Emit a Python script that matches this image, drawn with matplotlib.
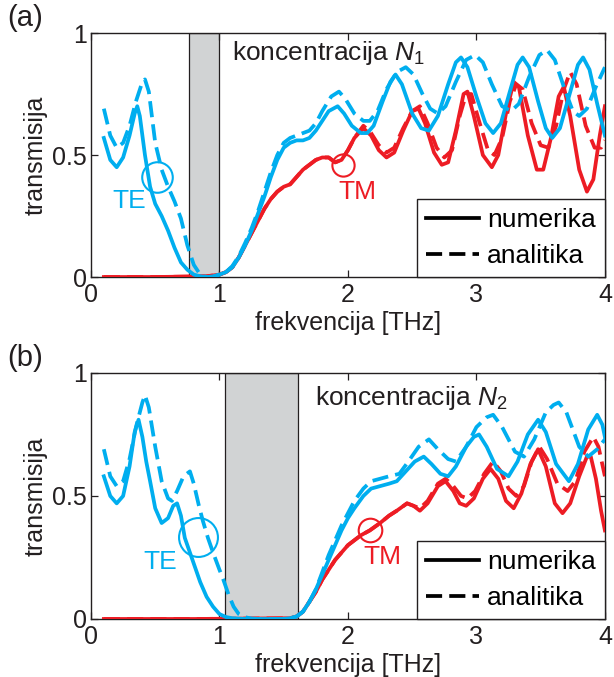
import matplotlib
matplotlib.use("Agg")
import matplotlib.pyplot as plt

plt.rcParams['font.family'] = ['Liberation Sans', 'DejaVu Sans']
plt.rcParams['mathtext.fontset'] = 'custom'
plt.rcParams['mathtext.rm'] = 'Liberation Sans'
plt.rcParams['mathtext.it'] = 'Liberation Sans:italic'

BLUE = '#00AEEF'
RED = '#ED1C24'
DARK = '#231F20'

# ---- panel (a), koncentracija N1 ----
a_te_num_x = [0.10, 0.15, 0.20, 0.25, 0.30, 0.34, 0.36, 0.38, 0.42, 0.46, 0.50, 0.55, 0.60, 0.65,
              0.70, 0.75, 0.80, 0.85, 0.90, 0.95, 1.00, 1.05, 1.10, 1.15, 1.20, 1.25, 1.30, 1.35,
              1.40, 1.45, 1.50, 1.55, 1.60, 1.65, 1.70, 1.75, 1.80, 1.85, 1.92, 1.97, 2.03, 2.10,
              2.15, 2.20, 2.27, 2.33, 2.37, 2.42, 2.50, 2.57, 2.63, 2.70, 2.78, 2.84, 2.88, 2.93,
              3.00, 3.07, 3.13, 3.19, 3.26, 3.32, 3.36, 3.41, 3.48, 3.54, 3.59, 3.65, 3.72, 3.79,
              3.83, 3.88, 3.94, 4.00]
a_te_num_y = [0.57, 0.48, 0.45, 0.49, 0.58, 0.67, 0.70, 0.66, 0.50, 0.37, 0.30, 0.25, 0.19, 0.12,
              0.06, 0.03, 0.01, 0.003, 0.0, 0.002, 0.01, 0.02, 0.04, 0.08, 0.13, 0.19, 0.26, 0.33,
              0.41, 0.48, 0.53, 0.55, 0.56, 0.56, 0.57, 0.60, 0.64, 0.68, 0.70, 0.67, 0.62, 0.59,
              0.59, 0.62, 0.72, 0.80, 0.83, 0.79, 0.67, 0.61, 0.60, 0.66, 0.79, 0.88, 0.90, 0.86,
              0.74, 0.63, 0.59, 0.63, 0.76, 0.87, 0.90, 0.86, 0.72, 0.61, 0.57, 0.61, 0.74, 0.87,
              0.90, 0.85, 0.71, 0.58]

a_te_ana_x = [0.10, 0.15, 0.20, 0.25, 0.30, 0.35, 0.40, 0.42, 0.45, 0.50, 0.55, 0.60, 0.65, 0.70,
              0.75, 0.80, 0.85, 0.90, 0.95, 1.00, 1.05, 1.10, 1.15, 1.20, 1.25, 1.30, 1.35, 1.40,
              1.45, 1.50, 1.55, 1.60, 1.65, 1.70, 1.75, 1.80, 1.87, 1.93, 1.98, 2.05, 2.12, 2.17,
              2.23, 2.30, 2.38, 2.45, 2.51, 2.58, 2.64, 2.70, 2.76, 2.84, 2.92, 2.99, 3.05, 3.12,
              3.20, 3.27, 3.33, 3.41, 3.49, 3.55, 3.61, 3.68, 3.75, 3.80, 3.86, 3.93, 4.00]
a_te_ana_y = [0.69, 0.58, 0.53, 0.55, 0.62, 0.72, 0.80, 0.81, 0.76, 0.55, 0.44, 0.37, 0.31, 0.24,
              0.13, 0.05, 0.01, 0.0, 0.002, 0.01, 0.02, 0.045, 0.085, 0.14, 0.20, 0.27, 0.35, 0.43,
              0.50, 0.55, 0.57, 0.58, 0.59, 0.60, 0.63, 0.68, 0.74, 0.76, 0.73, 0.67, 0.64, 0.64,
              0.68, 0.77, 0.84, 0.86, 0.83, 0.75, 0.69, 0.67, 0.70, 0.80, 0.89, 0.91, 0.88, 0.79,
              0.70, 0.68, 0.71, 0.82, 0.91, 0.93, 0.89, 0.78, 0.68, 0.66, 0.69, 0.78, 0.86]

a_tm_num_x = [0.10, 0.50, 0.90, 1.00, 1.05, 1.10, 1.15, 1.20, 1.25, 1.30, 1.35, 1.40, 1.45, 1.50,
              1.55, 1.60, 1.65, 1.70, 1.75, 1.80, 1.85, 1.90, 1.95, 2.00, 2.05, 2.12, 2.18, 2.24,
              2.30, 2.36, 2.43, 2.50, 2.55, 2.60, 2.67, 2.73, 2.78, 2.84, 2.90, 2.93, 2.98, 3.05,
              3.12, 3.17, 3.23, 3.29, 3.33, 3.40, 3.47, 3.52, 3.58, 3.64, 3.68, 3.73, 3.80, 3.86,
              3.91, 3.96, 4.00]
a_tm_num_y = [0.0, 0.0, 0.003, 0.01, 0.02, 0.04, 0.08, 0.13, 0.18, 0.23, 0.28, 0.32, 0.35, 0.37,
              0.38, 0.41, 0.44, 0.46, 0.48, 0.49, 0.49, 0.47, 0.48, 0.52, 0.57, 0.61, 0.58, 0.52,
              0.49, 0.51, 0.60, 0.68, 0.69, 0.63, 0.51, 0.46, 0.47, 0.60, 0.75, 0.76, 0.66, 0.50,
              0.45, 0.50, 0.67, 0.80, 0.78, 0.58, 0.44, 0.44, 0.57, 0.74, 0.78, 0.66, 0.44, 0.35,
              0.40, 0.58, 0.70]

a_tm_ana_x = [0.10, 0.50, 0.90, 1.00, 1.05, 1.10, 1.15, 1.20, 1.25, 1.30, 1.35, 1.40, 1.45, 1.50,
              1.55, 1.60, 1.65, 1.70, 1.75, 1.80, 1.85, 1.90, 1.95, 2.00, 2.05, 2.12, 2.18, 2.24,
              2.30, 2.36, 2.43, 2.50, 2.56, 2.62, 2.69, 2.75, 2.81, 2.87, 2.92, 2.96, 3.02, 3.09,
              3.14, 3.20, 3.26, 3.31, 3.36, 3.43, 3.50, 3.56, 3.62, 3.68, 3.73, 3.78, 3.85, 3.92,
              3.97, 4.00]
a_tm_ana_y = [0.0, 0.0, 0.003, 0.01, 0.02, 0.04, 0.08, 0.13, 0.18, 0.23, 0.28, 0.32, 0.35, 0.37,
              0.38, 0.41, 0.44, 0.46, 0.48, 0.49, 0.49, 0.47, 0.48, 0.52, 0.57, 0.62, 0.59, 0.54,
              0.51, 0.53, 0.61, 0.68, 0.70, 0.63, 0.53, 0.49, 0.52, 0.66, 0.75, 0.75, 0.64, 0.52,
              0.50, 0.57, 0.72, 0.79, 0.77, 0.63, 0.54, 0.53, 0.62, 0.77, 0.84, 0.79, 0.62, 0.53,
              0.53, 0.56]

# ---- panel (b), koncentracija N2 ----
b_te_num_x = [0.10, 0.15, 0.20, 0.25, 0.30, 0.34, 0.37, 0.40, 0.43, 0.46, 0.50, 0.55, 0.60, 0.64,
              0.67, 0.70, 0.73, 0.77, 0.81, 0.85, 0.90, 0.95, 1.00, 1.05, 1.10, 1.20, 1.50, 1.55,
              1.60, 1.65, 1.70, 1.75, 1.80, 1.85, 1.90, 1.95, 2.00, 2.05, 2.12, 2.18, 2.25, 2.32,
              2.38, 2.45, 2.52, 2.59, 2.65, 2.72, 2.78, 2.84, 2.92, 2.98, 3.02, 3.08, 3.16, 3.25,
              3.32, 3.40, 3.48, 3.54, 3.62, 3.72, 3.79, 3.87, 3.94, 3.98, 4.00]
b_te_num_y = [0.58, 0.50, 0.47, 0.50, 0.62, 0.76, 0.81, 0.74, 0.64, 0.56, 0.45, 0.39, 0.41, 0.46,
              0.47, 0.42, 0.33, 0.27, 0.21, 0.15, 0.09, 0.05, 0.02, 0.008, 0.003, 0.0, 0.0, 0.003,
              0.01, 0.03, 0.07, 0.12, 0.18, 0.24, 0.30, 0.36, 0.41, 0.45, 0.50, 0.53, 0.54, 0.55,
              0.56, 0.60, 0.64, 0.66, 0.63, 0.59, 0.58, 0.62, 0.70, 0.74, 0.75, 0.70, 0.61, 0.58,
              0.64, 0.75, 0.81, 0.76, 0.63, 0.56, 0.63, 0.77, 0.83, 0.79, 0.74]

b_te_ana_x = [0.10, 0.15, 0.20, 0.25, 0.30, 0.35, 0.40, 0.42, 0.45, 0.50, 0.55, 0.60, 0.63, 0.67,
              0.72, 0.77, 0.80, 0.84, 0.87, 0.91, 0.95, 1.00, 1.03, 1.07, 1.11, 1.15, 1.19, 1.25,
              1.30, 1.50, 1.55, 1.60, 1.65, 1.70, 1.75, 1.80, 1.85, 1.90, 1.95, 2.00, 2.05, 2.12,
              2.18, 2.25, 2.32, 2.40, 2.47, 2.55, 2.63, 2.70, 2.78, 2.84, 2.92, 3.00, 3.08, 3.13,
              3.20, 3.30, 3.37, 3.45, 3.54, 3.60, 3.64, 3.70, 3.80, 3.87, 3.94, 4.00]
b_te_ana_y = [0.69, 0.58, 0.54, 0.56, 0.65, 0.78, 0.88, 0.91, 0.86, 0.70, 0.56, 0.49, 0.48, 0.52,
              0.58, 0.60, 0.55, 0.46, 0.40, 0.33, 0.27, 0.20, 0.16, 0.10, 0.05, 0.02, 0.008, 0.002,
              0.0, 0.0, 0.003, 0.01, 0.03, 0.07, 0.12, 0.19, 0.26, 0.32, 0.38, 0.43, 0.48, 0.53,
              0.56, 0.57, 0.58, 0.59, 0.64, 0.70, 0.73, 0.69, 0.65, 0.64, 0.70, 0.78, 0.82, 0.83,
              0.78, 0.68, 0.66, 0.73, 0.84, 0.87, 0.88, 0.84, 0.70, 0.66, 0.69, 0.73]

b_tm_num_x = [0.10, 0.80, 1.55, 1.60, 1.65, 1.70, 1.75, 1.80, 1.85, 1.90, 1.95, 2.00, 2.05, 2.10,
              2.17, 2.25, 2.32, 2.38, 2.46, 2.51, 2.56, 2.62, 2.70, 2.76, 2.82, 2.87, 2.92, 2.98,
              3.05, 3.11, 3.17, 3.23, 3.29, 3.35, 3.42, 3.48, 3.54, 3.61, 3.67, 3.73, 3.80, 3.86,
              3.89, 3.93, 3.97, 4.00]
b_tm_num_y = [0.0, 0.0, 0.003, 0.01, 0.03, 0.07, 0.11, 0.16, 0.20, 0.24, 0.27, 0.30, 0.32, 0.34,
              0.36, 0.39, 0.42, 0.44, 0.47, 0.46, 0.44, 0.47, 0.54, 0.56, 0.52, 0.47, 0.46, 0.49,
              0.57, 0.61, 0.57, 0.48, 0.45, 0.51, 0.63, 0.69, 0.62, 0.47, 0.43, 0.47, 0.58, 0.66,
              0.66, 0.57, 0.44, 0.36]

b_tm_ana_x = [0.10, 0.80, 1.55, 1.60, 1.65, 1.70, 1.75, 1.80, 1.85, 1.90, 1.95, 2.00, 2.05, 2.10,
              2.17, 2.25, 2.32, 2.38, 2.46, 2.51, 2.56, 2.62, 2.70, 2.76, 2.82, 2.88, 2.93, 2.99,
              3.06, 3.13, 3.19, 3.25, 3.31, 3.37, 3.43, 3.49, 3.55, 3.63, 3.71, 3.77, 3.84, 3.91,
              3.95, 4.00]
b_tm_ana_y = [0.0, 0.0, 0.003, 0.01, 0.03, 0.07, 0.11, 0.16, 0.20, 0.24, 0.27, 0.30, 0.32, 0.34,
              0.36, 0.39, 0.42, 0.44, 0.47, 0.46, 0.45, 0.48, 0.55, 0.57, 0.54, 0.50, 0.49, 0.52,
              0.59, 0.64, 0.60, 0.53, 0.50, 0.54, 0.64, 0.70, 0.65, 0.55, 0.52, 0.56, 0.68, 0.74,
              0.70, 0.58]

gap_a = (0.76, 1.0)
gap_b = (1.04, 1.61)

x_ticks = [0, 1, 2, 3, 4]
y_ticks = [0, 0.5, 1]
y_ticklabels = ['0', '0.5', '1']

LW = 2.7
DASH = (4.3, 1.9)


def draw_panel(ax, te_num, te_ana, tm_num, tm_ana, gap):
    ax.axvspan(gap[0], gap[1], facecolor='#D1D3D4', edgecolor=DARK, lw=0.9, zorder=1)
    ax.plot(*tm_num, color=RED, lw=LW, zorder=3)
    ax.plot(*tm_ana, color=RED, lw=LW, dashes=DASH, zorder=3)
    ax.plot(*te_num, color=BLUE, lw=LW, zorder=4)
    ax.plot(*te_ana, color=BLUE, lw=LW, dashes=DASH, zorder=4)
    ax.set_xlim(0, 4)
    ax.set_ylim(0, 1)
    ax.set_xticks(x_ticks)
    ax.set_yticks(y_ticks)
    ax.set_yticklabels(y_ticklabels)
    ax.tick_params(direction='in', top=True, right=True, length=5, width=0.9,
                   labelsize=18, colors=DARK, labelcolor=DARK)
    ax.tick_params(axis='x', pad=4)
    ax.tick_params(axis='y', pad=3)
    for s in ax.spines.values():
        s.set_linewidth(1.0)
        s.set_color(DARK)
    ax.set_xlabel('frekvencija [THz]', fontsize=18, labelpad=3, color=DARK)
    ax.set_ylabel('transmisija', fontsize=18, labelpad=3, color=DARK)
    h1, = ax.plot([], [], color='black', lw=LW)
    h2, = ax.plot([], [], color='black', lw=LW, dashes=DASH)
    leg = ax.legend([h1, h2], ['numerika', 'analitika'], loc='lower right',
                    bbox_to_anchor=(1.0, 0.0), borderaxespad=0.0, fontsize=19,
                    handlelength=2.0, handletextpad=0.3, labelspacing=0.45,
                    borderpad=0.35, fancybox=False, framealpha=1)
    leg.get_frame().set_edgecolor(DARK)
    leg.get_frame().set_linewidth(1.0)
    leg.set_zorder(6)


fig = plt.figure(figsize=(6.14, 6.77), dpi=100)
ax1 = fig.add_axes([0.1482, 0.5908, 0.837, 0.3604])
ax2 = fig.add_axes([0.1482, 0.0857, 0.837, 0.3634])

draw_panel(ax1, (a_te_num_x, a_te_num_y), (a_te_ana_x, a_te_ana_y),
           (a_tm_num_x, a_tm_num_y), (a_tm_ana_x, a_tm_ana_y), gap_a)
draw_panel(ax2, (b_te_num_x, b_te_num_y), (b_te_ana_x, b_te_ana_y),
           (b_tm_num_x, b_tm_num_y), (b_tm_ana_x, b_tm_ana_y), gap_b)

# labels and circle markers
ax1.text(1.1, 0.92, r'koncentracija $N_1$', fontsize=19, color=DARK, va='center', zorder=7)
ax2.text(1.74, 0.90, r'koncentracija $N_2$', fontsize=19, color=DARK, va='center', zorder=7)

ax1.plot([0.51], [0.41], 'o', ms=22, mfc='none', mec=BLUE, mew=1.5, zorder=5)
ax1.text(0.30, 0.31, 'TE', fontsize=19, color=BLUE, ha='center', va='center')
ax1.plot([1.96], [0.46], 'o', ms=16, mfc='none', mec=RED, mew=1.5, zorder=5)
ax1.text(2.07, 0.35, 'TM', fontsize=19, color=RED, ha='center', va='center')

ax2.plot([0.83], [0.335], 'o', ms=28, mfc='none', mec=BLUE, mew=1.5, zorder=5)
ax2.text(0.54, 0.23, 'TE', fontsize=19, color=BLUE, ha='center', va='center')
ax2.plot([2.17], [0.363], 'o', ms=17, mfc='none', mec=RED, mew=1.5, zorder=5)
ax2.text(2.27, 0.25, 'TM', fontsize=19, color=RED, ha='center', va='center')

fig.text(25 / 614, 1 - 18 / 677, '(a)', fontsize=21, color=DARK, ha='center', va='center')
fig.text(25 / 614, 1 - 358 / 677, '(b)', fontsize=21, color=DARK, ha='center', va='center')

fig.savefig('out.png', dpi=100)
